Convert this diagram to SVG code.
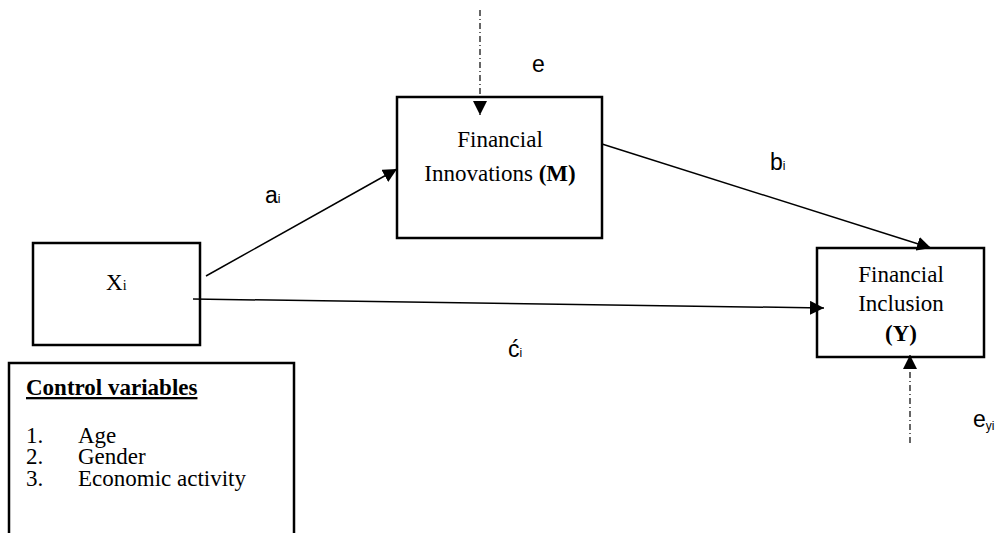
<svg xmlns="http://www.w3.org/2000/svg" width="1000" height="533" viewBox="0 0 1000 533">
<style>
.box{fill:#fff;stroke:#000;stroke-width:2.5}
.t{font-family:"Liberation Serif","Times New Roman",serif;font-size:23px;fill:#000}
.s{font-family:"Liberation Sans",Arial,sans-serif;font-size:23px;fill:#000}
.ln{stroke:#000;stroke-width:1.5;fill:none}
.dd{stroke:#000;stroke-width:1.2;fill:none;stroke-dasharray:6 3 1 3}
</style>
<defs>
<marker id="ah" viewBox="0 0 10 10" refX="10" refY="5" markerWidth="14" markerHeight="14" markerUnits="userSpaceOnUse" orient="auto">
<path d="M0,0 L10,5 L0,10 z" fill="#000"/>
</marker>
</defs>
<rect width="1000" height="533" fill="#fff"/>
<g id="node-m">
<rect class="box" x="397" y="97" width="205" height="141"/>
<text class="t" x="500" y="147" text-anchor="middle">Financial</text>
<text class="t" x="500" y="181" text-anchor="middle">Innovations <tspan font-weight="bold">(M)</tspan></text>
</g>
<g id="node-x">
<rect class="box" x="33" y="243" width="167" height="102"/>
<text class="t" x="106" y="290" font-size="22">X<tspan font-size="14">i</tspan></text>
</g>
<g id="node-y">
<rect class="box" x="817" y="248" width="167" height="109"/>
<text class="t" x="901" y="282" text-anchor="middle">Financial</text>
<text class="t" x="901" y="311" text-anchor="middle">Inclusion</text>
<text class="t" x="901" y="341" text-anchor="middle" font-weight="bold">(Y)</text>
</g>
<g id="node-control">
<rect class="box" x="9" y="363" width="285" height="190"/>
<text class="t" x="26" y="395" font-weight="bold" text-decoration="underline">Control variables</text>
<text class="t" x="26" y="443">1.</text><text class="t" x="78" y="443">Age</text>
<text class="t" x="26" y="464">2.</text><text class="t" x="78" y="464">Gender</text>
<text class="t" x="26" y="486">3.</text><text class="t" x="78" y="486">Economic activity</text>
</g>
<g id="connectors">
<line class="ln" x1="206" y1="276" x2="397" y2="169" marker-end="url(#ah)"/>
<line class="ln" x1="602" y1="144" x2="931" y2="248" marker-end="url(#ah)"/>
<line class="ln" x1="193" y1="299" x2="824" y2="308" marker-end="url(#ah)"/>
<line class="dd" x1="480" y1="10" x2="480" y2="115" marker-end="url(#ah)"/>
<line class="dd" x1="910" y1="443" x2="910" y2="355" marker-end="url(#ah)"/>
</g>
<g id="labels">
<text class="s" x="532" y="72">e</text>
<text class="s" x="265" y="203">a<tspan font-size="12">i</tspan></text>
<text class="s" x="770" y="170">b<tspan font-size="12">i</tspan></text>
<text class="s" x="508" y="357">ć<tspan font-size="12">i</tspan></text>
<text class="s" x="973" y="427">e<tspan font-size="12" dy="3">yi</tspan></text>
</g>
</svg>
